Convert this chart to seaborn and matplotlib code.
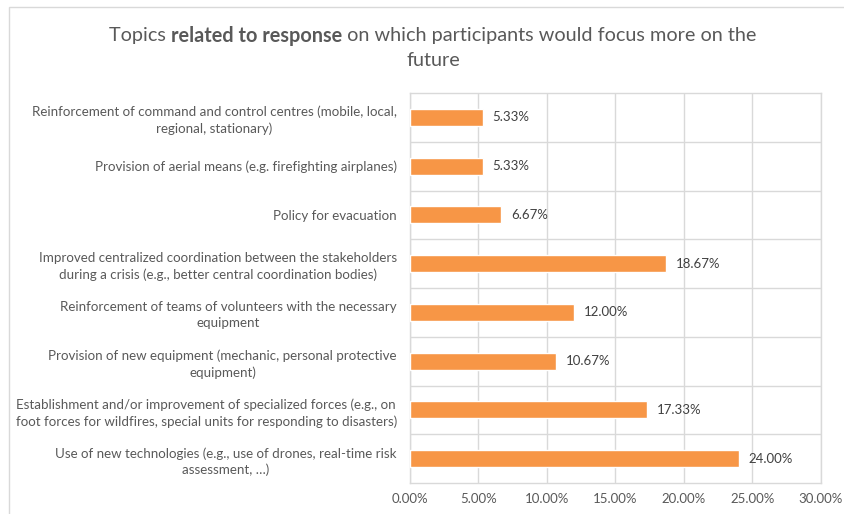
import matplotlib
matplotlib.use("Agg")
import matplotlib.pyplot as plt
import seaborn as sns
import pandas as pd
from matplotlib.patches import Rectangle
from matplotlib.ticker import FuncFormatter

categories = [
    "Reinforcement of command and control centres (mobile, local,\nregional, stationary)",
    "Provision of aerial means (e.g. firefighting airplanes)",
    "Policy for evacuation",
    "Improved centralized coordination between the stakeholders\nduring a crisis (e.g., better central coordination bodies)",
    "Reinforcement of teams of volunteers with the necessary\nequipment",
    "Provision of new equipment (mechanic, personal protective\nequipment)",
    "Establishment and/or improvement of specialized forces (e.g., on\nfoot forces for wildfires, special units for responding to disasters)",
    "Use of new technologies (e.g., use of drones, real-time risk\nassessment, \u2026)",
]
values = [5.33, 5.33, 6.67, 18.67, 12.00, 10.67, 17.33, 24.00]
x_ticks = [0, 5, 10, 15, 20, 25, 30]

sns.set_theme(style="white")
plt.rcParams['font.family'] = ['Lato', 'DejaVu Sans']

BAR = "#F79646"
TXT = "#595959"
GRID = "#D9D9D9"

df = pd.DataFrame({"topic": categories, "pct": values})

fig = plt.figure(figsize=(8.45, 5.14), dpi=100)
ax = fig.add_axes([410/845, 1-483/514, (821-410)/845, (483-93)/514])

sns.barplot(data=df, y="topic", x="pct", orient="h", color=BAR, width=0.35,
            saturation=1, ax=ax, zorder=3)

ax.set_xlim(0, 30)
ax.set_ylim(len(categories)-0.5, -0.5)
ax.set_xticks(x_ticks)
ax.xaxis.set_major_formatter(FuncFormatter(lambda v, p: f"{v:.2f}%"))
ax.set_xlabel("")
ax.set_ylabel("")

ax.grid(axis="x", color=GRID, linewidth=1, zorder=0)
for i in range(len(categories)-1):
    ax.axhline(i+0.5, color=GRID, linewidth=1, zorder=0)
for s in ax.spines.values():
    s.set_color(GRID)
    s.set_linewidth(1)

ax.tick_params(axis="both", length=0, colors=TXT)
ax.tick_params(axis="x", labelsize=9.5, pad=7)
ax.tick_params(axis="y", labelsize=9.6, pad=9.5)
for lab in ax.get_yticklabels():
    lab.set_multialignment("center")
    lab.set_linespacing(1.4)

for i, v in enumerate(values):
    ax.annotate(f"{v:.2f}%", xy=(v, i), xytext=(7, 0), textcoords="offset points",
                va="center", ha="left", fontsize=9.5, color="#404040")

# chart frame
fig.patches.append(Rectangle((9/845, -0.1), 1.2, 1-7/514+0.1, transform=fig.transFigure,
                             fill=False, edgecolor=GRID, linewidth=1))

# title with bold part
fs = 14.3
y1 = 1 - 36/514
parts = [("Topics ", "normal"), ("related to response", "bold"), (" on which participants would focus more on the", "normal")]
renderer = fig.canvas.get_renderer()
texts = []
for s, w in parts:
    t = fig.text(0, y1, s, fontsize=fs, fontweight=w, color=TXT, va="center", ha="left")
    texts.append(t)
widths = [t.get_window_extent(renderer).width for t in texts]
total = sum(widths)
cx = 433
x = cx - total/2
for t, w in zip(texts, widths):
    t.set_x(x/845)
    x += w
fig.text(cx/845, 1-61/514, "future", fontsize=fs, color=TXT, va="center", ha="center")

fig.savefig("out.png", dpi=100)
